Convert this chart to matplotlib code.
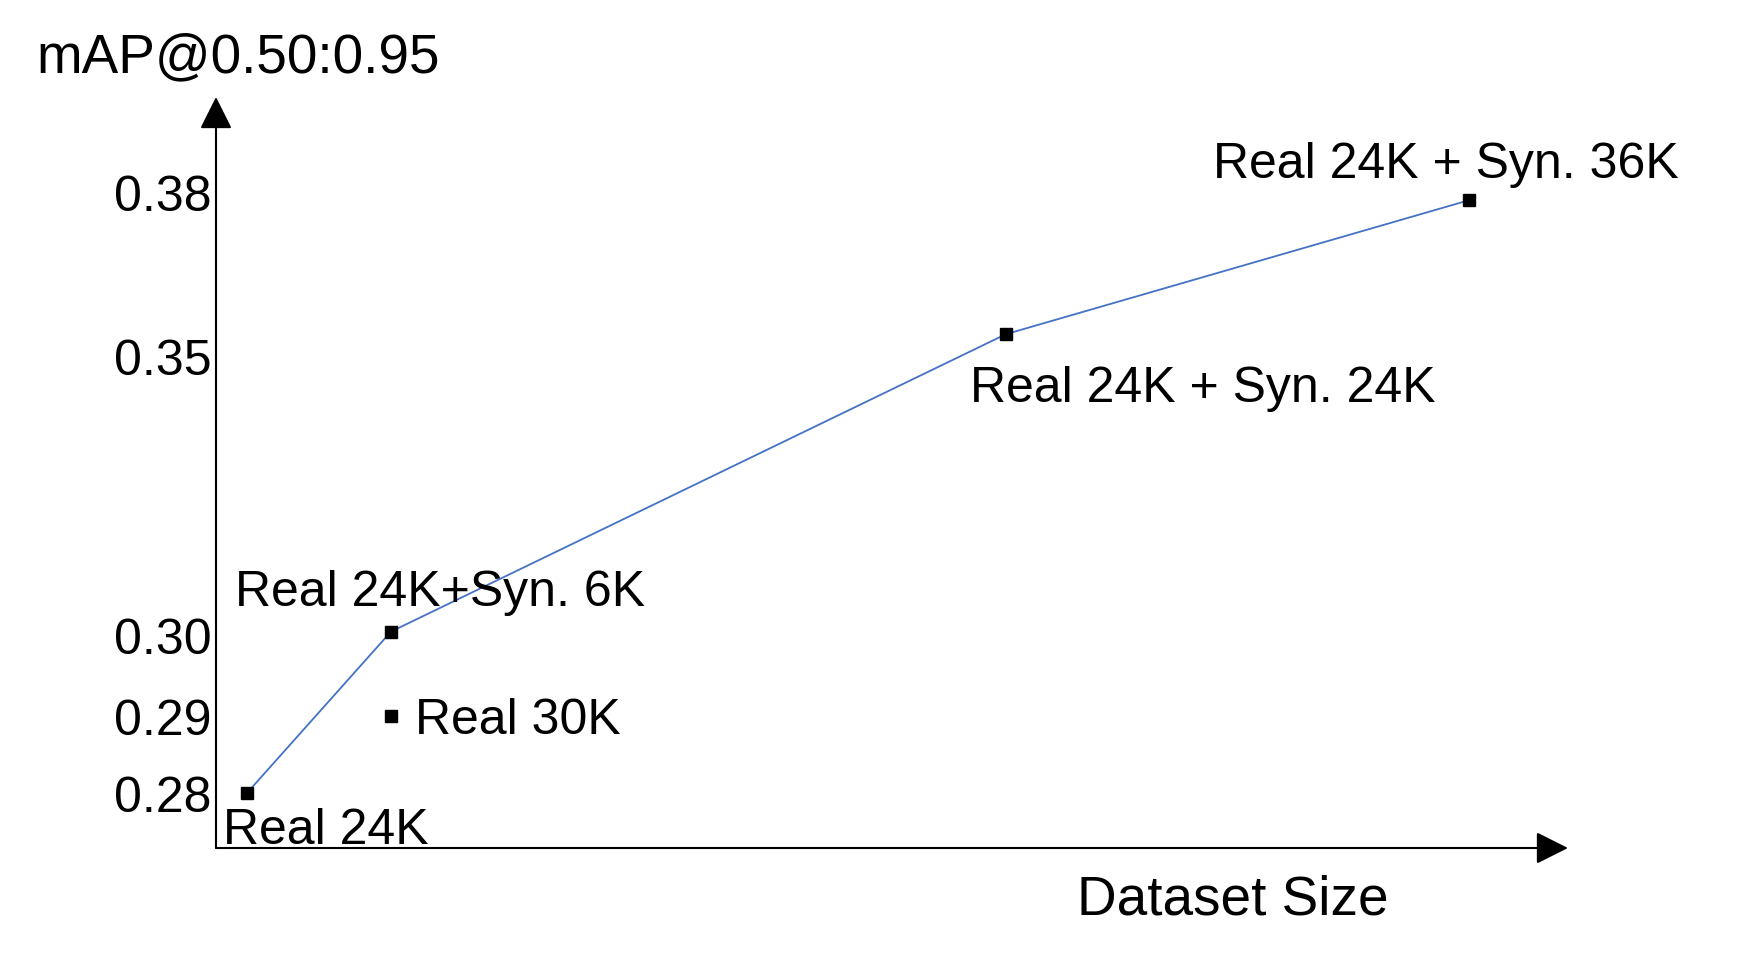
import numpy as np
import matplotlib
matplotlib.use("Agg")
import matplotlib.pyplot as plt

plt.rcParams['font.family'] = ['Liberation Sans', 'DejaVu Sans']

# data (dataset size in K images, mAP@0.50:0.95)
names = ["Real 24K", "Real 24K+Syn. 6K", "Real 24K + Syn. 24K", "Real 24K + Syn. 36K"]
sizes = [24, 30, 48, 60]
mAP = [0.280, 0.3006, 0.354, 0.3785]

real_name = "Real 30K"
real_size = 30
real_mAP = 0.290

yticks = [0.28, 0.29, 0.30, 0.35, 0.38]

# the drawing is not to scale, so map values onto the axes piecewise
x_knots = [22.71, 24, 30, 48, 60, 62.56]
x_pos = [0.0, 0.0229, 0.1294, 0.5843, 0.9268, 1.0]
y_knots = [0.27287, 0.28, 0.29, 0.30, 0.35, 0.38, 0.39738]
y_pos = [0.0, 0.0732, 0.1758, 0.2836, 0.6551, 0.8735, 1.0]

def xf(v):
    return np.interp(v, x_knots, x_pos)
def xi(p):
    return np.interp(p, x_pos, x_knots)
def yf(v):
    return np.interp(v, y_knots, y_pos)
def yi(p):
    return np.interp(p, y_pos, y_knots)

fig = plt.figure(figsize=(17.6, 9.62), dpi=100)
ax = fig.add_axes([216/1760, 113/962, 1352/1760, 751/962])
ax.set_xscale('function', functions=(xf, xi))
ax.set_yscale('function', functions=(yf, yi))
ax.set_xlim(x_knots[0], x_knots[-1])
ax.set_ylim(y_knots[0], y_knots[-1])

ax.plot(sizes, mAP, color='#4472C4', lw=1.3, zorder=2)
ax.plot(sizes, mAP, ls='none', marker='s', ms=8.3, color='black', zorder=3)
ax.plot([real_size], [real_mAP], ls='none', marker='s', ms=8.3, color='black', zorder=3)

# label offsets in points (text left / baseline relative to the marker)
offsets = [(-17, -36), (-112, 19), (-26, -48), (-184, 17)]
for n, x, y, off in zip(names, sizes, mAP, offsets):
    ax.annotate(n, (x, y), xytext=off, textcoords='offset points',
                ha='left', va='baseline', fontsize=36)
ax.annotate(real_name, (real_size, real_mAP), xytext=(17, -12), textcoords='offset points',
            ha='left', va='baseline', fontsize=36)

for s in ax.spines.values():
    s.set_visible(False)
ax.set_xticks([])
ax.set_yticks(yticks)
ax.set_yticklabels(["%.2f" % t for t in yticks])
ax.tick_params(axis='y', length=0, pad=3, labelsize=36)
ax.minorticks_off()

# axis arrows
arrow = dict(arrowstyle='-|>,head_length=0.4,head_width=0.2', mutation_scale=50,
             color='black', lw=1.5, shrinkA=0, shrinkB=0)
ax.annotate("", xy=(1, 0), xytext=(0, 0), xycoords='axes fraction', arrowprops=arrow)
ax.annotate("", xy=(0, 1), xytext=(0, 0), xycoords='axes fraction', arrowprops=arrow)

fig.text(36/1760, (962-72)/962, "mAP@0.50:0.95", fontsize=39.5, va='baseline', ha='left')
fig.text(1077/1760, (962-915)/962, "Dataset Size", fontsize=39.5, va='baseline', ha='left')

fig.savefig("out.png", dpi=100)
